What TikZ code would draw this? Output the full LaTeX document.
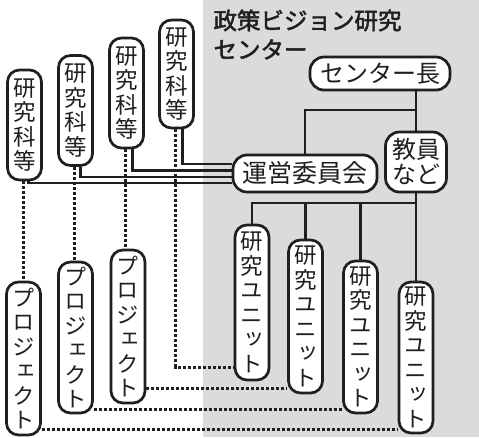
\documentclass[tikz,border=0pt]{standalone}
\usepackage{fontspec}
\newfontfamily\cjk{Noto Sans CJK JP}
\newfontfamily\cjkv[RawFeature={+vert}]{Noto Sans CJK JP}
\newfontfamily\cjkb[FakeBold=2]{Noto Sans CJK JP}
\definecolor{ink}{gray}{0.12}
\definecolor{bgg}{gray}{0.86}
\begin{document}
\begin{tikzpicture}[x=1pt,y=-1pt,
  box/.style={draw=ink,line width=2.7pt,fill=white,rounded corners=12pt,inner sep=0pt,text=ink},
  vbox/.style={box,minimum width=34pt,align=center,font=\cjkv\fontsize{22.5}{24.5}\selectfont},
  hbox/.style={box,rounded corners=14pt,font=\cjk\fontsize{24}{26}\selectfont},
  solidline/.style={draw=ink,line width=2.6pt},
  dotline/.style={draw=ink,line width=3pt,dash pattern=on 3pt off 2pt}]
\useasboundingbox (0,0) rectangle (479,437);
\fill[bgg] (203,0) rectangle (479,437);
\node[anchor=north west,align=left,text=ink,font=\cjkb\fontsize{23.5}{29}\selectfont] (title) at (210,6) {政策ビジョン研究\\センター};
% top structure
\node[hbox,minimum width=140pt,minimum height=33pt] (chief) at (380,73.5) {センター長};
\node[hbox,minimum width=144pt,minimum height=37pt,font=\cjk\fontsize{25}{27}\selectfont] (unei) at (305,173.5) {運営委員会};
\node[hbox,minimum width=61pt,minimum height=60pt,align=center,font=\cjk\fontsize{24}{25}\selectfont] (kyoin) at (416,162) {教員\\など};
% graduate schools
\node[vbox,minimum height=110pt] (a) at (24.5,125) {研\\究\\科\\等};
\node[vbox,minimum height=110pt] (b) at (75.5,110.5) {研\\究\\科\\等};
\node[vbox,minimum height=110pt] (c) at (126.5,93) {研\\究\\科\\等};
\node[vbox,minimum height=108pt] (d) at (176.5,74) {研\\究\\科\\等};
% projects
\node[vbox,minimum height=153pt] (p1) at (23.5,358.5) {プ\\ロ\\ジ\\ェ\\ク\\ト};
\node[vbox,minimum height=151pt] (p2) at (75.5,337.5) {プ\\ロ\\ジ\\ェ\\ク\\ト};
\node[vbox,minimum height=153pt] (p3) at (128,326.5) {プ\\ロ\\ジ\\ェ\\ク\\ト};
% units
\node[vbox,minimum height=155pt] (u1) at (252,302.5) {研\\究\\ユ\\ニ\\ッ\\ト};
\node[vbox,minimum height=153pt] (u2) at (305.5,316.5) {研\\究\\ユ\\ニ\\ッ\\ト};
\node[vbox,minimum height=152pt] (u3) at (360.5,337) {研\\究\\ユ\\ニ\\ッ\\ト};
\node[vbox,minimum height=151pt] (u4) at (416,357.5) {研\\究\\ユ\\ニ\\ッ\\ト};
% solid connectors
\coordinate (j1) at (416,110);
\coordinate (bus) at (0,203);
\draw[solidline] (chief.south -| kyoin.north) -- (kyoin.north);
\draw[solidline] (unei.north) |- (j1);
\draw[solidline] (kyoin.south) -- (kyoin.south |- bus) -- (u1.north |- bus) -- (u1.north);
\draw[solidline] (u2.north |- bus) -- (u2.north);
\draw[solidline] (u3.north |- bus) -- (u3.north);
\draw[solidline] (u4.north |- bus) -- (u4.north);
\draw[solidline] ([xshift=6pt]d.south) |- (unei.west |- 0,164);
\draw[solidline] ([xshift=6pt]c.south) |- (unei.west |- 0,170.5);
\draw[solidline] ([xshift=5pt]b.south) |- (unei.west |- 0,177);
\draw[solidline] ([xshift=4pt]a.south) |- (unei.west |- 0,183);
% dotted connectors
\draw[dotline] ([xshift=-1pt]a.south) -- ([xshift=-1pt]a.south |- p1.north);
\draw[dotline] ([xshift=-1pt]b.south) -- ([xshift=-1pt]b.south |- p2.north);
\draw[dotline] ([xshift=-1pt]c.south) -- ([xshift=-1pt]c.south |- p3.north);
\draw[dotline] ([xshift=-1pt]d.south) |- (u1.west |- 0,367);
\draw[dotline] (p3.east |- 0,388) -- (u2.west |- 0,388);
\draw[dotline] (p2.east |- 0,409) -- (u3.west |- 0,409);
\draw[dotline] (p1.east |- 0,429) -- (u4.west |- 0,429);
\end{tikzpicture}
\end{document}
